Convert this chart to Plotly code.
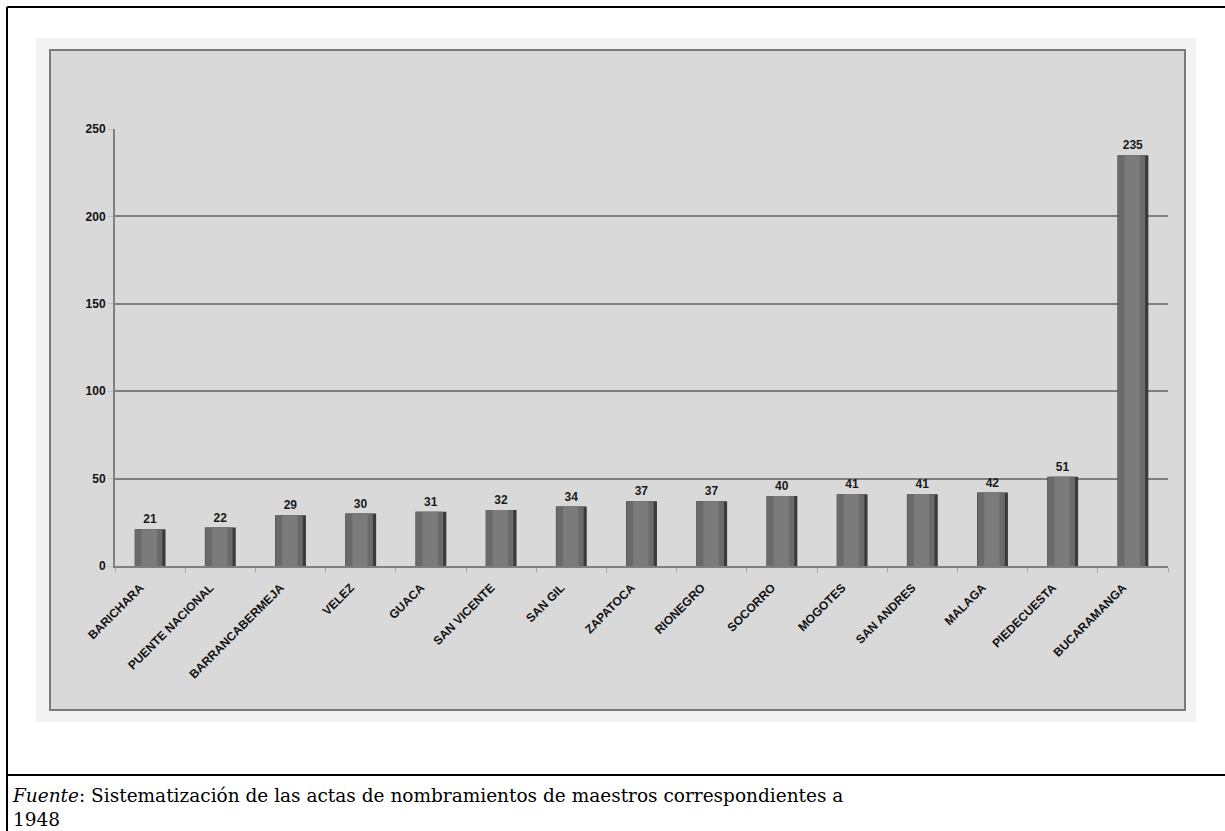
import plotly.graph_objects as go

categories = ["BARICHARA", "PUENTE NACIONAL", "BARRANCABERMEJA", "VELEZ", "GUACA",
              "SAN VICENTE", "SAN GIL", "ZAPATOCA", "RIONEGRO", "SOCORRO",
              "MOGOTES", "SAN ANDRES", "MALAGA", "PIEDECUESTA", "BUCARAMANGA"]
values = [21, 22, 29, 30, 31, 32, 34, 37, 37, 40, 41, 41, 42, 51, 235]
y_ticks = [0, 50, 100, 150, 200, 250]
footnote = ("<i>Fuente</i>: Sistematización de las actas de nombramientos de maestros "
            "correspondientes a<br>1948")

W, H = 1225, 831
L, R, T, B = 115, 1168, 129, 566
pw, ph = R - L, B - T

def px(x):
    return (x - L) / pw

def py(y):
    return (B - y) / ph

fig = go.Figure()
# cylinder-like bars via overlaid bars (dark right edge, lighter body, soft highlight)
fig.add_trace(go.Bar(x=categories, y=values, width=0.44, marker=dict(color="#3a3a3a", line=dict(width=0)),
                     text=[str(v) for v in values], textposition="outside",
                     textfont=dict(family="Liberation Sans", size=12, color="#1a1a1a", weight="bold"),
                     cliponaxis=False, hoverinfo="skip"))
fig.add_trace(go.Bar(x=categories, y=values, width=0.39, offset=-0.215,
                     marker=dict(color="#6a6a6a", line=dict(width=0)), hoverinfo="skip"))
fig.add_trace(go.Bar(x=categories, y=values, width=0.22, offset=-0.12,
                     marker=dict(color="#7b7b7b", line=dict(width=0)), hoverinfo="skip"))

shapes = []
# light halo around chart box
shapes.append(dict(type="rect", xref="paper", yref="paper", layer="below",
                   x0=px(36), x1=px(1196), y0=py(38), y1=py(722),
                   fillcolor="#f3f3f3", line=dict(width=0)))
# grey chart box
shapes.append(dict(type="rect", xref="paper", yref="paper", layer="below",
                   x0=px(50), x1=px(1185), y0=py(50), y1=py(710),
                   fillcolor="#d9d9d9", line=dict(color="#7a7a7a", width=2)))
# outer black frame lines
shapes.append(dict(type="line", xref="paper", yref="paper", x0=px(7), x1=px(1240), y0=py(7), y1=py(7),
                   line=dict(color="black", width=2)))
shapes.append(dict(type="line", xref="paper", yref="paper", x0=px(7), x1=px(7), y0=py(7), y1=py(840),
                   line=dict(color="black", width=2)))
shapes.append(dict(type="line", xref="paper", yref="paper", x0=px(7), x1=px(1240), y0=py(775), y1=py(775),
                   line=dict(color="black", width=2)))

fig.update_layout(
    width=W, height=H,
    margin=dict(l=L, r=W - R, t=T, b=H - B, autoexpand=False),
    paper_bgcolor="white",
    plot_bgcolor="rgba(0,0,0,0)",
    barmode="overlay",
    showlegend=False,
    shapes=shapes,
    annotations=[dict(text=footnote, xref="paper", yref="paper", x=px(10), y=py(783),
                      xanchor="left", yanchor="top", align="left", showarrow=False,
                      font=dict(family="DejaVu Serif", size=18.5, color="black"))],
    font=dict(family="Liberation Sans"),
)
fig.update_xaxes(range=[-0.5, len(categories) - 0.5], tickangle=-45,
                 tickfont=dict(family="Liberation Sans", size=12, color="#111", weight="bold"),
                 ticklabelstandoff=8, ticklabelshift=-10,
                 showline=True, linecolor="#7f7f7f", linewidth=2,
                 ticks="outside", tickson="boundaries", ticklen=5, tickcolor="#aaaaaa",
                 showgrid=False, zeroline=False)
fig.update_yaxes(range=[0, 250], tickvals=y_ticks,
                 tickfont=dict(family="Liberation Sans", size=12, color="#111", weight="bold"),
                 showline=True, linecolor="#7f7f7f", linewidth=2,
                 ticks="outside", ticklen=5, tickcolor="#c0c0c0",
                 showgrid=True, gridcolor="#7f7f7f", gridwidth=2, zeroline=False)

fig.write_html("out.html", config={"displayModeBar": False},
               post_script="document.body.style.margin='0';document.body.style.overflow='hidden';")
